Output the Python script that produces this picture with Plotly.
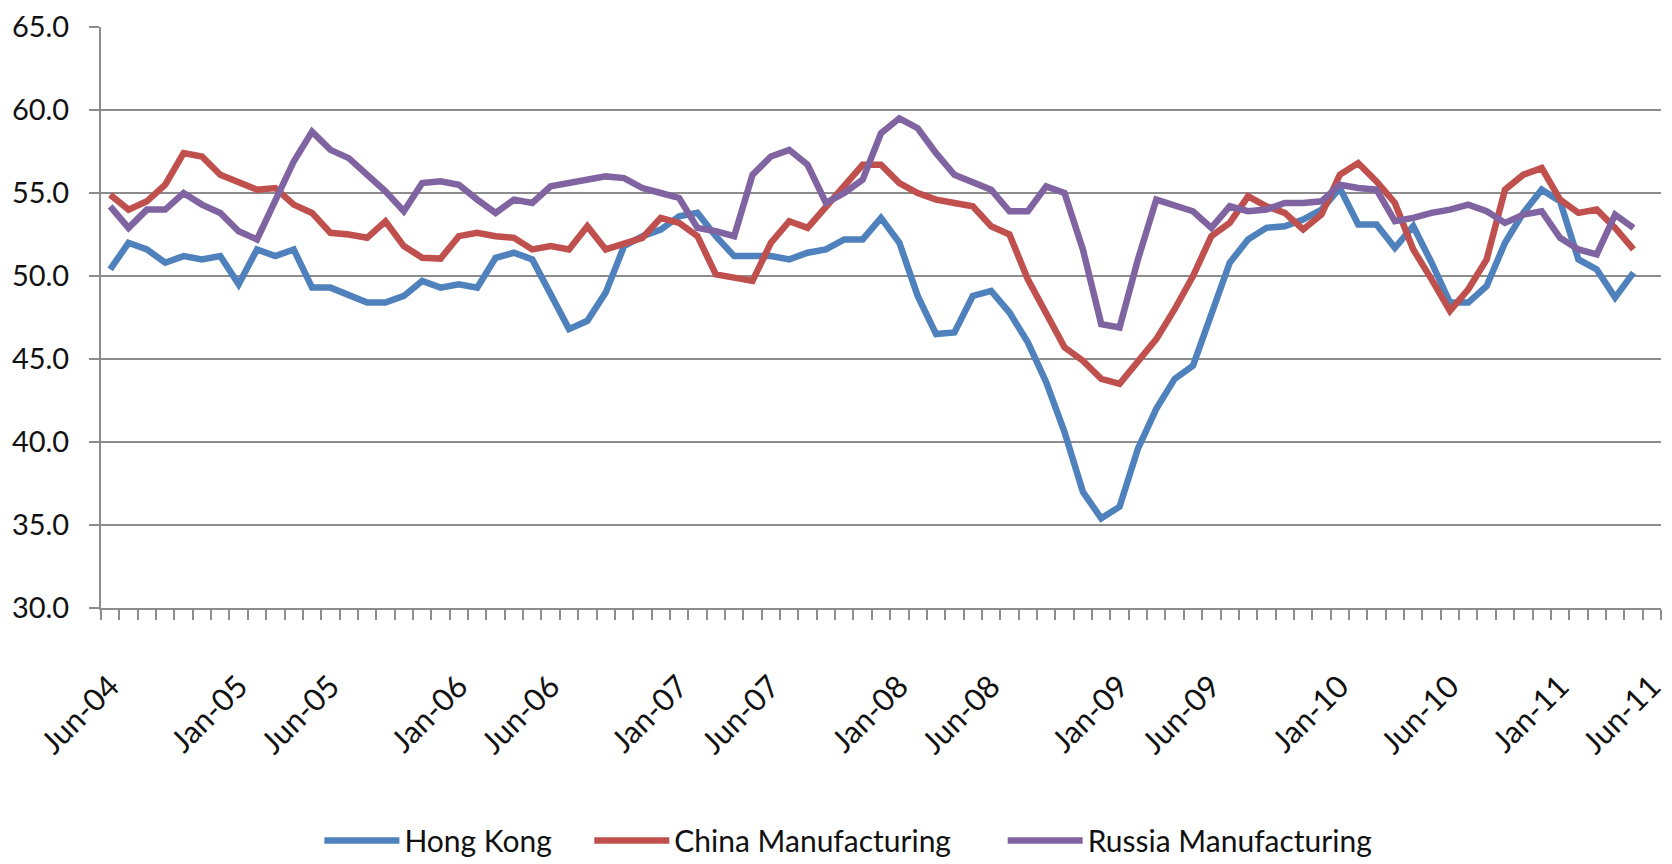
import plotly.graph_objects as go

# Monthly periods, Jun-04 onward (index positions on the category axis)
n_categories = 85
tick_index = [0, 7, 12, 19, 24, 31, 36, 43, 48, 55, 60, 67, 73, 79, 84]
tick_labels = ["Jun-04", "Jan-05", "Jun-05", "Jan-06", "Jun-06", "Jan-07", "Jun-07",
               "Jan-08", "Jun-08", "Jan-09", "Jun-09", "Jan-10", "Jun-10", "Jan-11", "Jun-11"]
y_ticks = [30, 35, 40, 45, 50, 55, 60, 65]

hong_kong = [50.4, 52.0, 51.6, 50.8, 51.2, 51.0, 51.2, 49.5, 51.6, 51.2,
             51.6, 49.3, 49.3, 48.9, 48.4, 48.4, 48.8, 49.7, 49.3, 49.5,
             49.3, 51.1, 51.4, 51.0, 48.9, 46.8, 47.3, 49.0, 51.8, 52.4,
             52.8, 53.6, 53.8, 52.4, 51.2, 51.2, 51.2, 51.0, 51.4, 51.6,
             52.2, 52.2, 53.5, 52.0, 48.8, 46.5, 46.6, 48.8, 49.1, 47.8,
             46.0, 43.6, 40.6, 37.0, 35.4, 36.1, 39.6, 42.0, 43.8, 44.6,
             47.6, 50.8, 52.2, 52.9, 53.0, 53.4, 54.0, 55.3, 53.1, 53.1,
             51.7, 53.0, 50.8, 48.4, 48.4, 49.4, 52.0, 53.8, 55.2, 54.5,
             51.0, 50.4, 48.7, 50.2]

china_mfg = [54.9, 54.0, 54.5, 55.5, 57.4, 57.2, 56.1, 55.6, 55.2, 55.3,
             54.3, 53.8, 52.6, 52.5, 52.3, 53.3, 51.8, 51.1, 51.05, 52.4,
             52.6, 52.4, 52.3, 51.6, 51.8, 51.6, 53.0, 51.6, 51.9, 52.3,
             53.5, 53.2, 52.4, 50.1, 49.9, 49.7, 52.0, 53.3, 52.9, 54.2,
             55.5, 56.7, 56.7, 55.6, 55.0, 54.6, 54.4, 54.2, 53.0, 52.5,
             49.8, 47.8, 45.7, 44.9, 43.8, 43.5, 44.8, 46.2, 48.0, 50.0,
             52.4, 53.2, 54.8, 54.2, 53.8, 52.8, 53.7, 56.1, 56.8, 55.7,
             54.4, 51.6, 49.8, 47.9, 49.2, 51.0, 55.2, 56.1, 56.5, 54.6,
             53.8, 54.0, 52.9, 51.6]

russia_mfg = [54.2, 52.9, 54.0, 54.0, 55.0, 54.3, 53.8, 52.7, 52.2, 54.6,
              56.9, 58.7, 57.6, 57.1, 56.1, 55.1, 53.9, 55.6, 55.7, 55.5,
              54.6, 53.8, 54.6, 54.4, 55.4, 55.6, 55.8, 56.0, 55.9, 55.3,
              55.0, 54.7, 52.9, 52.7, 52.4, 56.1, 57.2, 57.6, 56.7, 54.4,
              55.0, 55.8, 58.6, 59.5, 58.9, 57.4, 56.1, 55.7, 55.2, 53.9,
              53.9, 55.4, 55.0, 51.6, 47.1, 46.9, 51.0, 54.6, 54.3, 53.9,
              52.9, 54.2, 53.9, 54.0, 54.4, 54.4, 54.5, 55.5, 55.3, 55.2,
              53.3, 53.5, 53.8, 54.0, 54.3, 53.9, 53.2, 53.7, 53.9, 52.3,
              51.6, 51.3, 53.7, 52.9]

series = [("Hong Kong", hong_kong, "#4F81BD", "legend"),
          ("China Manufacturing", china_mfg, "#C0504D", "legend2"),
          ("Russia Manufacturing", russia_mfg, "#8064A2", "legend3")]

FONT = "Lato"
GRID = "#8C8C8C"
TEXT = "#111111"

fig = go.Figure()
for name, vals, color, leg in series:
    fig.add_trace(go.Scatter(x=list(range(len(vals))), y=vals, name=name, mode="lines",
                             line=dict(color=color, width=6.5), legend=leg))

boundaries = [i - 0.5 for i in range(n_categories + 1)]
label_shift = 0.0
label_pos = [t + label_shift for t in tick_index]


def legend_box(xpos):
    return dict(orientation="h", x=xpos, xanchor="left", y=-0.40, yanchor="middle",
                font=dict(family=FONT, size=30, color=TEXT), itemwidth=75,
                bgcolor="rgba(0,0,0,0)")


fig.update_layout(
    width=1664, height=856,
    margin=dict(l=93, r=11, t=19, b=256, autoexpand=False),
    paper_bgcolor="white", plot_bgcolor="white",
    font=dict(family=FONT, size=30, color=TEXT),
    showlegend=True,
    legend=legend_box(0.140),
    legend2=legend_box(0.313),
    legend3=legend_box(0.578),
    xaxis=dict(range=[-0.5, n_categories - 0.5], showgrid=False, zeroline=False,
               showline=True, linecolor=GRID, linewidth=2,
               tickmode="array", tickvals=label_pos, ticktext=tick_labels,
               tickangle=-45, ticks="", ticklabelstandoff=46,
               ticklabeloverflow="allow",
               tickfont=dict(family=FONT, size=31, color=TEXT)),
    yaxis=dict(range=[30, 65], tickmode="array", tickvals=y_ticks,
               ticktext=[f"{v:.1f}" for v in y_ticks],
               showgrid=True, gridcolor=GRID, gridwidth=2, zeroline=False,
               showline=True, linecolor=GRID, linewidth=2,
               ticks="outside", ticklen=10, tickwidth=2, tickcolor=GRID,
               ticklabelstandoff=14, ticklabeloverflow="allow",
               tickfont=dict(family=FONT, size=29, color=TEXT)),
)
fig.update_xaxes(minor=dict(tickmode="array", tickvals=boundaries, ticks="outside",
                            ticklen=10, tickwidth=2, tickcolor=GRID))

fig.write_html("out.html")
